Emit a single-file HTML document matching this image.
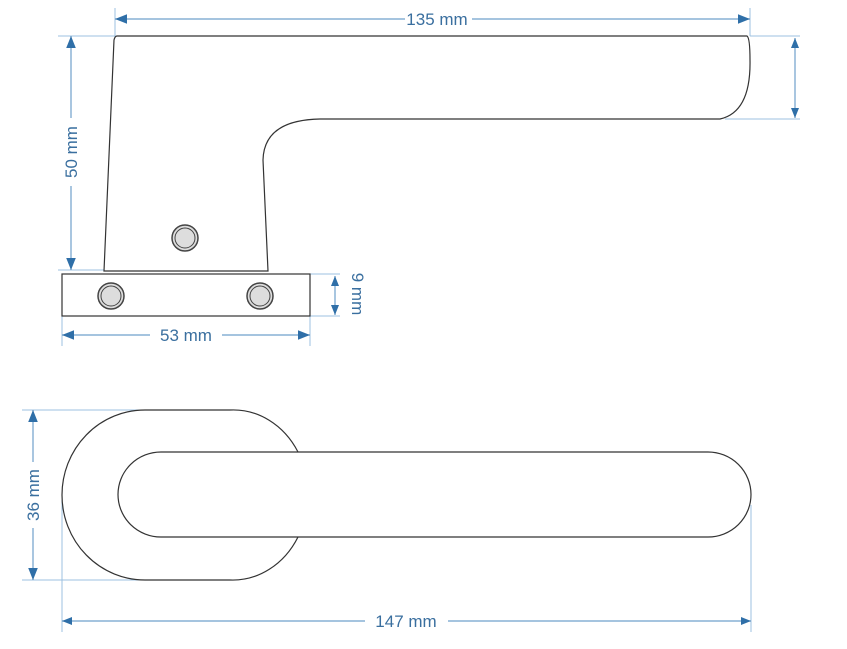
<!DOCTYPE html>
<html><head><style>body{margin:0;background:#fff}svg{display:block}text{font-family:"Liberation Sans",sans-serif;font-size:17px;fill:#3a6f9f}</style></head><body>
<svg width="847" height="649" viewBox="0 0 847 649" xmlns="http://www.w3.org/2000/svg">
<defs><marker id="a" viewBox="0 0 10 10" refX="10" refY="5" markerWidth="10" markerHeight="10" markerUnits="userSpaceOnUse" orient="auto-start-reverse"><path d="M0,1 L10,5 L0,9z" fill="#2f6fa8"/></marker>
<marker id="b" viewBox="0 0 10 10" refX="10" refY="5" markerWidth="16" markerHeight="12" markerUnits="userSpaceOnUse" orient="auto-start-reverse"><path d="M0,1 L10,5 L0,9z" fill="#2f6fa8"/></marker></defs>
<g stroke="#9cc0e0" stroke-width="1" fill="none">
<line x1="115" y1="8" x2="115" y2="40"/><line x1="750" y1="8" x2="750" y2="36"/>
<line x1="58" y1="36" x2="115" y2="36"/><line x1="58" y1="270" x2="104" y2="270"/>
<line x1="750" y1="36" x2="800" y2="36"/><line x1="725" y1="119" x2="800" y2="119"/>
<line x1="310" y1="274" x2="340" y2="274"/><line x1="310" y1="316" x2="340" y2="316"/>
<line x1="62" y1="316" x2="62" y2="346"/><line x1="310" y1="316" x2="310" y2="346"/>
<line x1="22" y1="410" x2="145" y2="410"/><line x1="22" y1="580" x2="145" y2="580"/>
<line x1="62" y1="500" x2="62" y2="632"/><line x1="751" y1="505" x2="751" y2="632"/>
</g>
<g stroke="#6fa0cc" stroke-width="1.2" fill="none">
<line x1="115" y1="19" x2="405" y2="19" marker-start="url(#b)"/><line x1="472" y1="19" x2="750" y2="19" marker-end="url(#b)"/>
<line x1="71" y1="36" x2="71" y2="118" marker-start="url(#b)"/><line x1="71" y1="186" x2="71" y2="270" marker-end="url(#b)"/>
<line x1="795" y1="38" x2="795" y2="118" marker-start="url(#a)" marker-end="url(#a)"/>
<line x1="335" y1="276" x2="335" y2="315" marker-start="url(#a)" marker-end="url(#a)"/>
<line x1="62" y1="335" x2="150" y2="335" marker-start="url(#b)"/><line x1="222" y1="335" x2="310" y2="335" marker-end="url(#b)"/>
<line x1="33" y1="410" x2="33" y2="462" marker-start="url(#b)"/><line x1="33" y1="528" x2="33" y2="580" marker-end="url(#b)"/>
<line x1="62" y1="621" x2="365" y2="621" marker-start="url(#a)"/><line x1="448" y1="621" x2="751" y2="621" marker-end="url(#a)"/>
</g>
<text x="437" y="25" text-anchor="middle">135 mm</text>
<text transform="translate(77,152) rotate(-90)" text-anchor="middle">50 mm</text>
<text transform="translate(352,294) rotate(90)" text-anchor="middle">9 mm</text>
<text x="186" y="341" text-anchor="middle">53 mm</text>
<text transform="translate(39,495) rotate(-90)" text-anchor="middle">36 mm</text>
<text x="406" y="627" text-anchor="middle">147 mm</text>
<g stroke="#333" stroke-width="1.2" fill="#fff">
<path d="M117,36 L747,36 Q750,38 750,60 Q751,112 720,119 L320,119 Q264,120 263,160 L268,271 L104,271 L114,40 Q115,36 117,36Z"/>
<rect x="62" y="274" width="248" height="42"/>
<path d="M145,410 L230,410 A75,85 0 0 1 298,452 L298,537 A75,85 0 0 1 230,580 L145,580 A83,85 0 0 1 145,410Z"/>
<path d="M161,452 L708,452 A43,42.5 0 0 1 708,537 L161,537 A43,42.5 0 0 1 161,452Z"/>
</g>
<g stroke="#444" fill="#ddd">
<circle cx="185" cy="238" r="13" stroke-width="1.5"/><circle cx="185" cy="238" r="10" stroke-width="1"/>
<circle cx="111" cy="296" r="13" stroke-width="1.5"/><circle cx="111" cy="296" r="10" stroke-width="1"/>
<circle cx="260" cy="296" r="13" stroke-width="1.5"/><circle cx="260" cy="296" r="10" stroke-width="1"/>
</g>
</svg></body></html>
